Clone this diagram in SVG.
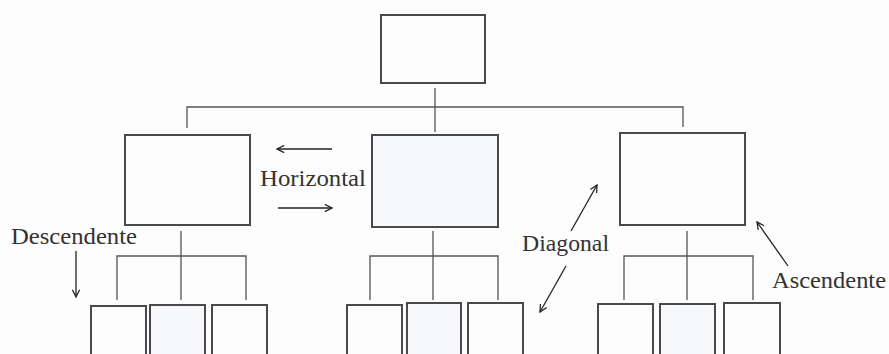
<svg xmlns="http://www.w3.org/2000/svg" width="889" height="354" viewBox="0 0 889 354">
<style>
.box{fill:#fdfdfd;stroke:#4a4a4a;stroke-width:2}
.boxb{fill:#f7f8fb;stroke:#4a4a4a;stroke-width:2}
.ln{fill:none;stroke:#555;stroke-width:1.3}
.arr{fill:none;stroke:#222;stroke-width:1.3;marker-end:url(#head)}
.lbl{font-family:"Liberation Serif","DejaVu Serif",serif;font-size:23px;fill:#333}
</style>
<defs>
<marker id="head" viewBox="0 0 10 10" refX="9" refY="5" markerWidth="9" markerHeight="9" markerUnits="userSpaceOnUse" orient="auto">
<path d="M1,1 L9,5 L1,9" fill="none" stroke="#222" stroke-width="1.4"/>
</marker>
</defs>
<rect width="889" height="354" fill="#fdfdfd"/>
<g id="connectors">
<path class="ln" d="M435,88 V132 M187,128 V107 H683 V127"/>
<path class="ln" d="M181,231 V300 M117,300 V256 H246 V300"/>
<path class="ln" d="M433,231 V300 M370,300 V256 H498 V300"/>
<path class="ln" d="M687,231 V300 M624,300 V256 H753 V300"/>
</g>
<g id="top"><rect class="box" x="381" y="15" width="104" height="68"/></g>
<g id="mid-left"><rect class="box" x="125" y="135" width="125" height="90"/></g>
<g id="mid-center"><rect class="boxb" x="372" y="135" width="126" height="92"/></g>
<g id="mid-right"><rect class="box" x="620" y="133" width="125" height="92"/></g>
<g id="l1"><rect class="box" x="91" y="306" width="55" height="60"/></g>
<g id="l2"><rect class="boxb" x="150" y="305" width="55" height="60"/></g>
<g id="l3"><rect class="box" x="212" y="305" width="55" height="60"/></g>
<g id="c1"><rect class="box" x="347" y="305" width="55" height="60"/></g>
<g id="c2"><rect class="boxb" x="407" y="303" width="54" height="60"/></g>
<g id="c3"><rect class="box" x="468" y="303" width="55" height="60"/></g>
<g id="r1"><rect class="box" x="598" y="304" width="55" height="60"/></g>
<g id="r2"><rect class="boxb" x="660" y="304" width="55" height="60"/></g>
<g id="r3"><rect class="box" x="724" y="303" width="56" height="60"/></g>
<g id="labels">
<path class="arr" d="M332,149 H277"/>
<path class="arr" d="M278,208 H332"/>
<text class="lbl" x="260" y="186" textLength="106" lengthAdjust="spacingAndGlyphs">Horizontal</text>
<text class="lbl" x="11" y="244" textLength="126" lengthAdjust="spacingAndGlyphs">Descendente</text>
<path class="arr" d="M76,251 V297"/>
<text class="lbl" x="522" y="251" textLength="87" lengthAdjust="spacingAndGlyphs">Diagonal</text>
<path class="arr" d="M571,231 L597,185"/>
<path class="arr" d="M566,266 L540,312"/>
<text class="lbl" x="772" y="288" textLength="114" lengthAdjust="spacingAndGlyphs">Ascendente</text>
<path class="arr" d="M788,266 L757,222"/>
</g>
</svg>
